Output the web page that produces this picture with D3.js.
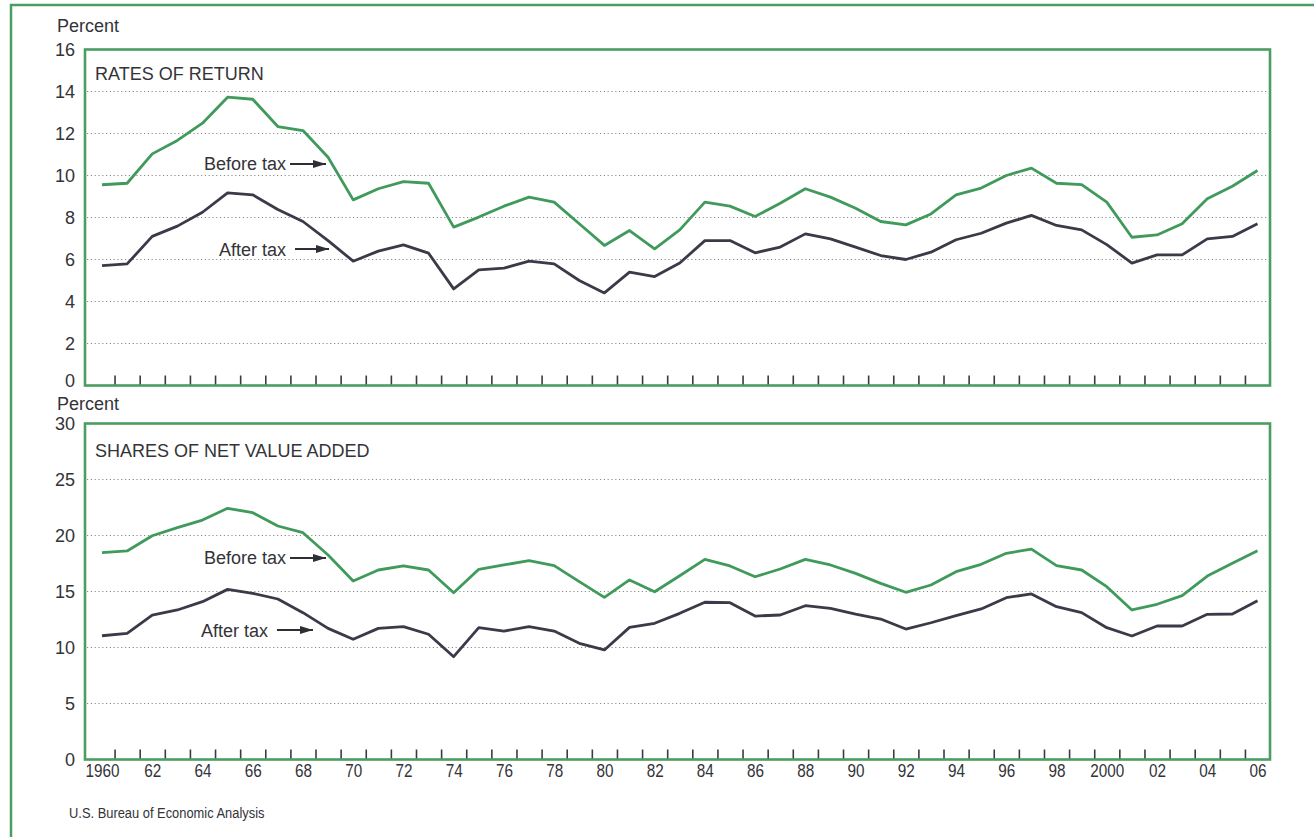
<!DOCTYPE html>
<html>
<head>
<meta charset="utf-8">
<script src="https://cdn.jsdelivr.net/npm/d3@7"></script>
<style>
  html, body { margin: 0; padding: 0; background: #ffffff; }
  svg { display: block; }
  text { font-family: "Liberation Sans", Arial, Helvetica, sans-serif; fill: #333338; }
</style>
</head>
<body>
<svg id="chart" width="1314" height="837"></svg>
<script>
// ---------------- DATA ----------------
const years = d3.range(1960, 2007);

const ratesBeforeTax = [9.56, 9.63, 11.03, 11.67, 12.49, 13.73, 13.63, 12.33, 12.14, 10.87,
  8.84, 9.37, 9.71, 9.63, 7.54, 8.02, 8.54, 8.97, 8.73, 7.70,
  6.67, 7.38, 6.51, 7.41, 8.73, 8.54, 8.05, 8.68, 9.37, 8.97,
  8.44, 7.81, 7.65, 8.17, 9.08, 9.40, 10.00, 10.35, 9.63, 9.57,
  8.73, 7.06, 7.17, 7.70, 8.89, 9.49, 10.24];

const ratesAfterTax = [5.71, 5.79, 7.10, 7.59, 8.25, 9.17, 9.08, 8.38, 7.81, 6.90,
  5.92, 6.40, 6.70, 6.30, 4.60, 5.51, 5.59, 5.92, 5.79, 5.00,
  4.41, 5.40, 5.19, 5.83, 6.90, 6.90, 6.32, 6.59, 7.22, 6.98,
  6.59, 6.19, 6.00, 6.35, 6.94, 7.25, 7.73, 8.10, 7.62, 7.41,
  6.71, 5.83, 6.22, 6.22, 6.98, 7.10, 7.70];

const sharesBeforeTax = [18.47, 18.62, 19.98, 20.70, 21.38, 22.43, 22.04, 20.85, 20.25, 18.26,
  15.94, 16.92, 17.28, 16.92, 14.89, 16.98, 17.37, 17.75, 17.31, 15.88,
  14.48, 16.03, 14.98, 16.41, 17.87, 17.28, 16.32, 17.01, 17.87, 17.37,
  16.62, 15.73, 14.93, 15.58, 16.77, 17.43, 18.41, 18.79, 17.31, 16.92,
  15.43, 13.35, 13.86, 14.63, 16.38, 17.52, 18.64];

const sharesAfterTax = [11.05, 11.27, 12.90, 13.35, 14.09, 15.19, 14.84, 14.33, 13.11, 11.71,
  10.73, 11.71, 11.86, 11.18, 9.18, 11.77, 11.47, 11.86, 11.47, 10.37,
  9.78, 11.80, 12.16, 13.05, 14.04, 14.00, 12.81, 12.90, 13.73, 13.50,
  12.99, 12.54, 11.65, 12.21, 12.84, 13.44, 14.45, 14.78, 13.64, 13.11,
  11.77, 11.03, 11.92, 11.92, 12.96, 12.99, 14.18];

const yearLabelValues = [1960, 1962, 1964, 1966, 1968, 1970, 1972, 1974, 1976, 1978, 1980,
  1982, 1984, 1986, 1988, 1990, 1992, 1994, 1996, 1998, 2000, 2002, 2004, 2006];
const yearLabels = ["1960", "62", "64", "66", "68", "70", "72", "74", "76", "78", "80",
  "82", "84", "86", "88", "90", "92", "94", "96", "98", "2000", "02", "04", "06"];

const ratesTicks = [0, 2, 4, 6, 8, 10, 12, 14, 16];
const sharesTicks = [0, 5, 10, 15, 20, 25, 30];

const panelTitles = ["RATES OF RETURN", "SHARES OF NET VALUE ADDED"];
const seriesNames = ["Before tax", "After tax"];
const yAxisTitle = "Percent";
const sourceText = "U.S. Bureau of Economic Analysis";

// ---------------- STYLE ----------------
const GREEN_FRAME = "#4a9e62";
const GREEN_LINE = "#3f9a5b";
const DARK_LINE = "#3a3a48";
const TEXT = "#333338";

const svg = d3.select("#chart");

// outer border
svg.append("path")
  .attr("d", "M11,840 L11,5 L1320,5")
  .attr("fill", "none")
  .attr("stroke", GREEN_FRAME)
  .attr("stroke-width", 2.5);

// arrow marker
svg.append("defs").append("marker")
  .attr("id", "arrow")
  .attr("viewBox", "0 0 13 8")
  .attr("refX", 13).attr("refY", 4)
  .attr("markerWidth", 13).attr("markerHeight", 8)
  .attr("markerUnits", "userSpaceOnUse")
  .attr("orient", "auto")
  .append("path").attr("d", "M0,0 L13,4 L0,8 z").attr("fill", "#2e2e34");

const x = d3.scaleLinear().domain([1960, 2006]).range([102, 1257.5]);
const frameLeft = 85, frameRight = 1270;

function panel(cfg) {
  const y = d3.scaleLinear().domain([0, cfg.max]).range([cfg.bottom, cfg.top]);
  const g = svg.append("g");

  // gridlines
  g.append("g").selectAll("line")
    .data(cfg.ticks.filter(t => t > 0 && t < cfg.max))
    .join("line")
    .attr("x1", frameLeft + 2).attr("x2", frameRight - 2)
    .attr("y1", d => y(d)).attr("y2", d => y(d))
    .attr("stroke", "#8a8a8a")
    .attr("stroke-width", 1)
    .attr("stroke-dasharray", "1.2,2.6");

  // year ticks (boundaries between years)
  const tickYears = d3.range(1960.5, 2006, 1);
  const tickAxis = d3.axisBottom(x).tickValues(tickYears).tickSize(-10).tickFormat("");
  const ta = g.append("g").attr("transform", `translate(0,${cfg.bottom})`).call(tickAxis);
  ta.select(".domain").remove();
  ta.selectAll(".tick line").attr("stroke", "#3a3a42").attr("stroke-width", 1.6);

  // frame
  g.append("rect")
    .attr("x", frameLeft).attr("y", cfg.top)
    .attr("width", frameRight - frameLeft).attr("height", cfg.bottom - cfg.top)
    .attr("fill", "none").attr("stroke", GREEN_FRAME).attr("stroke-width", 2.6);

  // y axis labels
  const yAxis = d3.axisLeft(y).tickValues(cfg.ticks).tickSize(0).tickPadding(0).tickFormat(d3.format("d"));
  const ya = g.append("g").attr("transform", `translate(${frameLeft - 10},0)`).call(yAxis);
  ya.select(".domain").remove();
  ya.selectAll("text")
    .attr("font-family", '"Liberation Sans", Arial, sans-serif')
    .attr("font-size", 18).attr("fill", TEXT)
    .attr("dy", d => (d === 0 ? cfg.zeroDy : "0.35em"));

  // y title
  g.append("text").attr("x", 57).attr("y", cfg.percentY)
    .attr("font-size", 18).text(yAxisTitle);

  // panel title
  g.append("text").attr("x", 95).attr("y", cfg.titleY)
    .attr("font-size", 18).text(cfg.title);

  // lines
  const line = d3.line().x((d, i) => x(years[i])).y(d => y(d));
  g.append("path").datum(cfg.before).attr("d", line)
    .attr("fill", "none").attr("stroke", GREEN_LINE).attr("stroke-width", 2.8)
    .attr("stroke-linejoin", "round");
  g.append("path").datum(cfg.after).attr("d", line)
    .attr("fill", "none").attr("stroke", DARK_LINE).attr("stroke-width", 2.8)
    .attr("stroke-linejoin", "round");

  // annotations
  cfg.notes.forEach((n, i) => {
    g.append("text").attr("x", n.tx).attr("y", n.ty)
      .attr("text-anchor", "end").attr("font-size", 18).text(seriesNames[i]);
    g.append("line").attr("x1", n.ax1).attr("x2", n.ax2)
      .attr("y1", n.ay).attr("y2", n.ay)
      .attr("stroke", "#2e2e34").attr("stroke-width", 1.8)
      .attr("marker-end", "url(#arrow)");
  });

  return { y };
}

panel({
  top: 49.5, bottom: 385.5, max: 16, ticks: ratesTicks,
  title: panelTitles[0], titleY: 80, percentY: 32, zeroDy: "0.05em",
  before: ratesBeforeTax, after: ratesAfterTax,
  notes: [
    { tx: 286, ty: 170, ax1: 290, ax2: 326, ay: 164 },
    { tx: 286, ty: 256, ax1: 295, ax2: 329, ay: 249 }
  ]
});

panel({
  top: 423.5, bottom: 759.5, max: 30, ticks: sharesTicks,
  title: panelTitles[1], titleY: 457, percentY: 410, zeroDy: "0.35em",
  before: sharesBeforeTax, after: sharesAfterTax,
  notes: [
    { tx: 286, ty: 564, ax1: 290, ax2: 326, ay: 558 },
    { tx: 268, ty: 637, ax1: 277, ax2: 313, ay: 630 }
  ]
});

// x labels (condensed)
const xLabelAxis = d3.axisBottom(x).tickValues(yearLabelValues).tickSize(0).tickPadding(0)
  .tickFormat((d, i) => yearLabels[i]);
const xla = svg.append("g").attr("transform", "translate(0,764)").call(xLabelAxis);
xla.select(".domain").remove();
xla.selectAll(".tick text")
  .attr("font-family", '"Liberation Sans", Arial, sans-serif')
  .attr("font-size", 18).attr("fill", TEXT)
  .attr("dy", "0.71em")
  .attr("transform", "scale(0.85,1)");

// source
svg.append("text")
  .attr("transform", "translate(69,818) scale(0.86,1)")
  .attr("font-size", 15).text(sourceText);
</script>
</body>
</html>
